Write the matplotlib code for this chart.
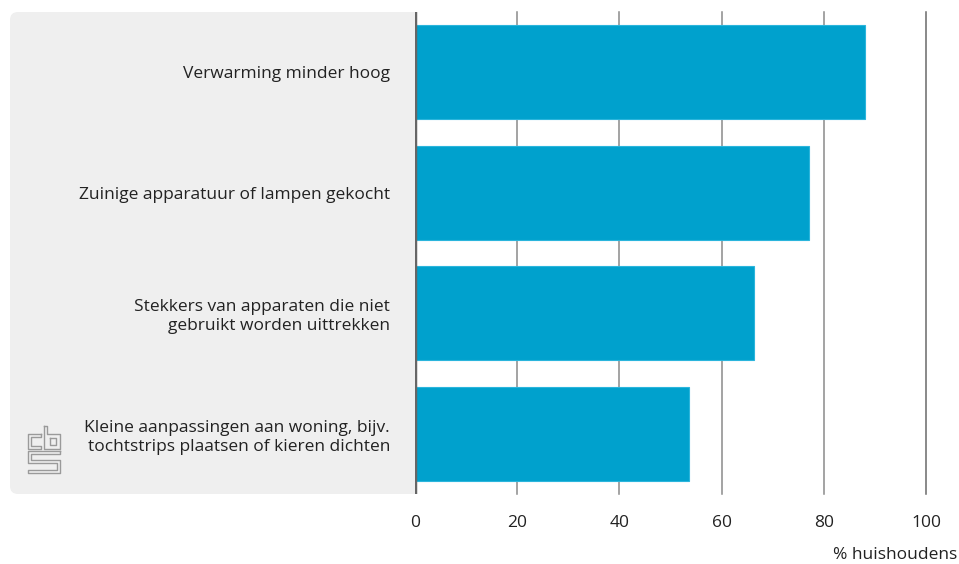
import matplotlib
matplotlib.use("Agg")
import matplotlib.pyplot as plt
from matplotlib.patches import FancyBboxPatch, Rectangle

categories = [
    "Verwarming minder hoog",
    "Zuinige apparatuur of lampen gekocht",
    "Stekkers van apparaten die niet\ngebruikt worden uittrekken",
    "Kleine aanpassingen aan woning, bijv.\ntochtstrips plaatsen of kieren dichten",
]
values = [88.1, 77.2, 66.3, 53.7]
xticks = [0, 20, 40, 60, 80, 100]
xlabel = "% huishoudens"

W, H = 959, 564
plt.rcParams['font.family'] = ['Open Sans', 'DejaVu Sans']
fig = plt.figure(figsize=(W / 100, H / 100), dpi=100)

# gray label panel
bg = fig.add_axes([0, 0, 1, 1], zorder=0)
bg.set_xlim(0, W)
bg.set_ylim(H, 0)
bg.axis('off')
bg.add_patch(FancyBboxPatch((10, 12), 405, 482, boxstyle="round,pad=0,rounding_size=8",
                            facecolor="#efefef", edgecolor="none"))
bg.add_patch(Rectangle((395, 12), 20, 482, facecolor="#efefef", edgecolor="none"))

# CBS logo (decorative)
lc = "#9a9a9a"
lw = 1.0
# c
bg.plot([41, 28, 28, 41, 41, 31, 31, 41, 41], [434, 434, 449, 449, 446, 446, 437, 437, 434], color=lc, lw=lw)
# b
bg.plot([44, 47, 47, 60, 60, 44, 44], [426, 426, 434, 434, 449, 449, 426], color=lc, lw=lw)
bg.plot([50, 56, 56, 50, 50], [438, 438, 445, 445, 438], color=lc, lw=lw)
# s
bg.plot([60, 28, 28, 57, 57, 28, 28, 60, 60, 31, 31, 60, 60],
        [451, 451, 463, 463, 470, 470, 473, 473, 460, 460, 454, 454, 451], color=lc, lw=lw)

ax = fig.add_axes([415 / W, 1 - 494 / H, (926 - 415) / W, (494 - 12) / H], zorder=1)
ax.patch.set_alpha(0)
y = list(range(len(categories)))
ax.barh(y, values, height=0.78, color="#00a1cd", edgecolor="#2bb5dc", linewidth=0.8, zorder=3)
ax.set_ylim(len(categories) - 0.5, -0.5)
ax.set_xlim(0, 100)
ax.set_xticks(xticks)
ax.set_xticklabels([str(t) for t in xticks])
for t in xticks[1:]:
    ax.axvline(t, color="#8a8a8a" if t < 100 else "#6a6a6a", lw=1.1, zorder=1, clip_on=False)
ax.axvline(0, color="#666666", lw=2.5, zorder=4)
for s in ax.spines.values():
    s.set_visible(False)
ax.tick_params(axis='x', length=0, pad=15, labelsize=12.5, labelcolor="#222222")
ax.tick_params(axis='y', length=0, pad=18, labelsize=12.5, labelcolor="#222222")
ax.set_yticks(y)
ax.set_yticklabels(categories, ha='right', linespacing=1.25)
for lbl in ax.get_yticklabels():
    lbl.set_multialignment('right')

fig.text(957 / W, 1 - 555 / H, xlabel, ha='right', va='center', fontsize=12.5, color="#222222")

fig.savefig("out.png", dpi=100)
